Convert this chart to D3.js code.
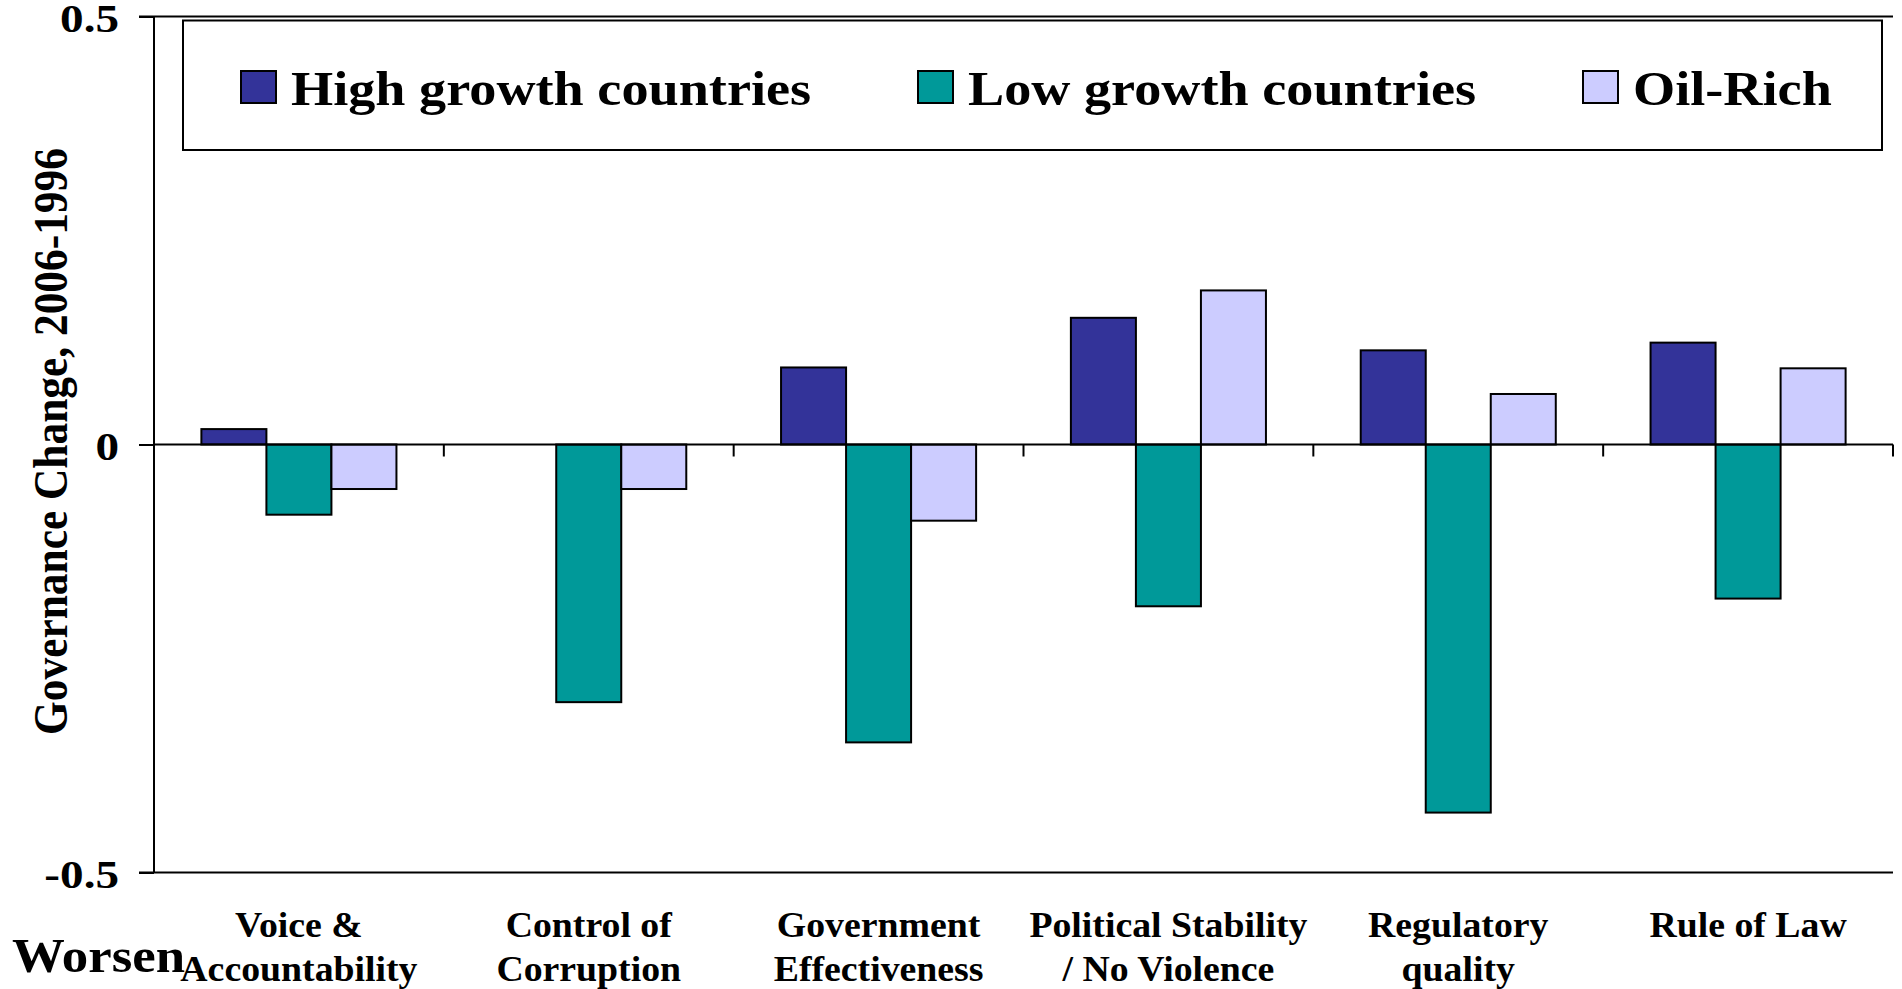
<!DOCTYPE html>
<html>
<head>
<meta charset="utf-8">
<script src="https://cdn.jsdelivr.net/npm/d3@7"></script>
<style>
  html, body { margin: 0; padding: 0; background: #fff; }
  svg { display: block; }
  text { font-family: "Liberation Serif", "Times New Roman", serif; font-weight: bold; fill: #000; }
</style>
</head>
<body>
<svg id="chart" width="1902" height="989"></svg>
<script>
// ---- data ----
const categories = [
  ["Voice &", "Accountability"],
  ["Control of", "Corruption"],
  ["Government", "Effectiveness"],
  ["Political Stability", "/ No Violence"],
  ["Regulatory", "quality"],
  ["Rule of Law"]
];
const seriesNames = ["High growth countries", "Low growth countries", "Oil-Rich"];
const highGrowth = [0.018, 0.0, 0.090, 0.148, 0.110, 0.119];
const lowGrowth  = [-0.082, -0.301, -0.348, -0.189, -0.430, -0.180];
const oilRich    = [-0.052, -0.052, -0.089, 0.180, 0.059, 0.089];
const seriesColors = ["#333399", "#009999", "#CCCCFF"];
const yTicks = [0.5, 0, -0.5];
const yTickLabels = ["0.5", "0", "-0.5"];
const yTitle = "Governance Change, 2006-1996";
const sideLabel = "Worsen";

(function () {
// ---- layout ----
const svg = d3.select("#chart");
const pLeft = 154, pRight = 1893, pTop = 16.5, pBottom = 872.5;
const catKeys = categories.map((c, i) => i);
const x = d3.scaleBand().domain(catKeys).range([pLeft, pRight])
  .paddingInner(0.327).paddingOuter(0.1635);
const xs = d3.scaleBand().domain([0, 1, 2]).range([0, x.bandwidth()]);
const y = d3.scaleLinear().domain([-0.5, 0.5]).range([pBottom, pTop]);
const SX = 1.12;

const series = [highGrowth, lowGrowth, oilRich];

// frame lines (top & bottom) and y axis
svg.append("line").attr("x1", 139).attr("x2", pRight).attr("y1", y(0.5)).attr("y2", y(0.5))
  .attr("stroke", "#000").attr("stroke-width", 2);
svg.append("line").attr("x1", 139).attr("x2", pRight).attr("y1", y(-0.5)).attr("y2", y(-0.5))
  .attr("stroke", "#000").attr("stroke-width", 2);

const yAxis = d3.axisLeft(y).tickValues(yTicks).tickSize(15).tickFormat(() => "");
const gy = svg.append("g").attr("transform", `translate(${pLeft},0)`).call(yAxis);
gy.select(".domain").attr("stroke", "#000").attr("stroke-width", 2).attr("d", `M0,${y(0.5)}V${y(-0.5)}`);
gy.selectAll(".tick line").attr("stroke", "#000").attr("stroke-width", 2);

// y tick labels
yTicks.forEach((t, i) => {
  svg.append("text")
    .attr("transform", `translate(119,${y(t) + 15}) scale(1.15,1)`)
    .attr("text-anchor", "end")
    .style("font-size", "41px")
    .text(yTickLabels[i]);
});

// bars
const bars = svg.append("g");
series.forEach((vals, si) => {
  bars.selectAll(null).data(vals).enter().append("rect")
    .attr("x", (d, i) => x(i) + xs(si))
    .attr("width", xs.bandwidth())
    .attr("y", d => y(Math.max(0, d)))
    .attr("height", d => Math.abs(y(d) - y(0)))
    .attr("fill", seriesColors[si])
    .attr("stroke", "#000")
    .attr("stroke-width", 2);
});

// x axis (zero line) with category boundary ticks
svg.append("line").attr("x1", pLeft).attr("x2", pRight).attr("y1", y(0)).attr("y2", y(0))
  .attr("stroke", "#000").attr("stroke-width", 2);
const bounds = d3.range(categories.length + 1).map(i => pLeft + i * x.step());
svg.selectAll(null).data(bounds).enter().append("line")
  .attr("x1", d => d).attr("x2", d => d)
  .attr("y1", y(0)).attr("y2", y(0) + 12)
  .attr("stroke", "#000").attr("stroke-width", 2);

// category labels
categories.forEach((lines, i) => {
  const cx = x(i) + x.bandwidth() / 2;
  lines.forEach((ln, j) => {
    svg.append("text")
      .attr("transform", `translate(${cx},${937 + j * 43.5}) scale(1.08,1)`)
      .attr("text-anchor", "middle")
      .style("font-size", "35px")
      .text(ln);
  });
});

// side label
svg.append("text")
  .attr("transform", `translate(12,972) scale(1.1,1)`)
  .style("font-size", "48px")
  .text(sideLabel);

// y title
svg.append("text")
  .attr("transform", `translate(67,${(148 + 735) / 2}) scale(${SX},1) rotate(-90)`)
  .attr("text-anchor", "middle")
  .style("font-size", "43.4px")
  .text(yTitle);

// legend
const lg = svg.append("g");
lg.append("rect").attr("x", 183).attr("y", 20.5).attr("width", 1882 - 183).attr("height", 150 - 20.5)
  .attr("fill", "#fff").attr("stroke", "#000").attr("stroke-width", 2);
const legendX = [241, 918, 1583];
seriesNames.forEach((nm, i) => {
  lg.append("rect").attr("x", legendX[i]).attr("y", 71).attr("width", 35).attr("height", 32)
    .attr("fill", seriesColors[i]).attr("stroke", "#000").attr("stroke-width", 2);
  lg.append("text")
    .attr("transform", `translate(${legendX[i] + 50},104.5) scale(1.13,1)`)
    .style("font-size", "48px")
    .text(nm);
});
})();
</script>
</body>
</html>
